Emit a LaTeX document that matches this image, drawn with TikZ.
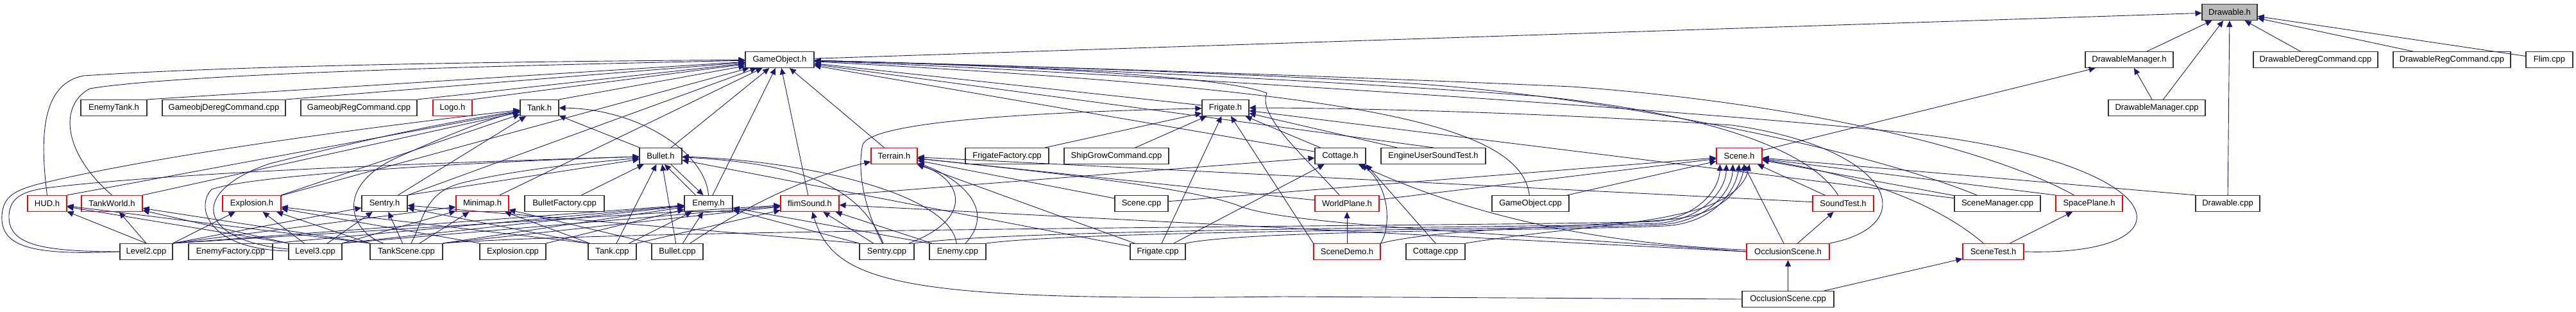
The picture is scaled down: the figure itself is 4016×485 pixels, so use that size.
\documentclass[tikz,border=0pt]{standalone}
\usepackage{fontspec}
\setmainfont{Liberation Sans}
\usetikzlibrary{arrows.meta}
\definecolor{edgeblue}{HTML}{191970}
\tikzset{
  file/.style={draw=black!80, line width=1.1pt, fill=white, minimum height=25pt, inner sep=2pt, font=\fontsize{13}{15}\selectfont},
  redfile/.style={file, draw=red},
  dep/.style={draw=edgeblue, line width=0.9pt, -{Triangle[length=10pt,width=9pt]}},
}
\begin{document}
\begin{tikzpicture}[x=1pt, y=-1pt]
\useasboundingbox (0,0) rectangle (4016,485);

% --- 第0层 ---
\node[file, fill=gray!55, minimum width=86pt] (drawh) at (3476,19) {Drawable.h};

% --- 第1层 ---
\node[file, minimum width=107pt] (gameobjh) at (1215.5,93) {GameObject.h};
\node[file, minimum width=137pt] (drawmgrh) at (3319.5,93) {DrawableManager.h};
\node[file, minimum width=194pt] (drawderegcpp) at (3610,93) {DrawableDeregCommand.cpp};
\node[file, minimum width=183pt] (drawregcpp) at (3822.5,93) {DrawableRegCommand.cpp};
\node[file, minimum width=73pt] (flimcpp) at (3974.5,93) {Flim.cpp};

% --- 第2层 ---
\node[file, minimum width=103pt] (enemytankh) at (177.5,168) {EnemyTank.h};
\node[file, minimum width=192pt] (gobjderegcpp) at (349,168) {GameobjDeregCommand.cpp};
\node[file, minimum width=181pt] (gobjregcpp) at (559.5,168) {GameobjRegCommand.cpp};
\node[redfile, minimum width=61pt] (logoh) at (705.5,168) {Logo.h};
\node[file, minimum width=60pt] (tankh) at (841,168) {Tank.h};
\node[file, minimum width=73pt] (frigateh) at (1910.5,168) {Frigate.h};
\node[file, minimum width=151pt] (drawmgrcpp) at (3362.5,168) {DrawableManager.cpp};

% --- 第3层 ---
\node[file, minimum width=66pt] (bulleth) at (1030,243) {Bullet.h};
\node[redfile, minimum width=72pt] (terrainh) at (1394,243) {Terrain.h};
\node[file, minimum width=130pt] (frigfactcpp) at (1570,243) {FrigateFactory.cpp};
\node[file, minimum width=163pt] (shipgrowcpp) at (1740.5,243) {ShipGrowCommand.cpp};
\node[file, minimum width=79pt] (cottageh) at (2089.5,243) {Cottage.h};
\node[file, minimum width=163pt] (eustesth) at (2234.5,243) {EngineUserSoundTest.h};
\node[redfile, minimum width=71pt] (sceneh) at (2711.5,243) {Scene.h};

% --- 第4层 ---
\node[redfile, minimum width=61pt] (hudh) at (73.5,317) {HUD.h};
\node[redfile, minimum width=95pt] (tankworldh) at (174.5,317) {TankWorld.h};
\node[redfile, minimum width=91pt] (explosionh) at (392.5,317) {Explosion.h};
\node[file, minimum width=71pt] (sentryh) at (599.5,317) {Sentry.h};
\node[redfile, minimum width=82pt] (minimaph) at (752,317) {Minimap.h};
\node[file, minimum width=124pt] (bulletfactcpp) at (880,317) {BulletFactory.cpp};
\node[file, minimum width=75pt] (enemyh) at (1104.5,317) {Enemy.h};
\node[redfile, minimum width=91pt] (flimsoundh) at (1262.5,317) {flimSound.h};
\node[file, minimum width=83pt] (scenecpp) at (1779.5,317) {Scene.cpp};
\node[redfile, minimum width=100pt] (worldplaneh) at (2100,317) {WorldPlane.h};
\node[file, minimum width=120pt] (gameobjcpp) at (2386,317) {GameObject.cpp};
\node[redfile, minimum width=95pt] (soundtesth) at (2873.5,317) {SoundTest.h};
\node[file, minimum width=134pt] (scenemgrcpp) at (3114,317) {SceneManager.cpp};
\node[redfile, minimum width=104pt] (spaceplaneh) at (3257,317) {SpacePlane.h};
\node[file, minimum width=100pt] (drawcpp) at (3473,317) {Drawable.cpp};

% --- 第5层 ---
\node[file, minimum width=82pt] (level2cpp) at (228,392) {Level2.cpp};
\node[file, minimum width=131pt] (enemyfactcpp) at (359.5,392) {EnemyFactory.cpp};
\node[file, minimum width=83pt] (level3cpp) at (491.5,392) {Level3.cpp};
\node[file, minimum width=113pt] (tankscenecpp) at (633.5,392) {TankScene.cpp};
\node[file, minimum width=103pt] (explosioncpp) at (799.5,392) {Explosion.cpp};
\node[file, minimum width=75pt] (tankcpp) at (954.5,392) {Tank.cpp};
\node[file, minimum width=80pt] (bulletcpp) at (1056,392) {Bullet.cpp};
\node[file, minimum width=85pt] (sentrycpp) at (1382.5,392) {Sentry.cpp};
\node[file, minimum width=88pt] (enemycpp) at (1493,392) {Enemy.cpp};
\node[file, minimum width=86pt] (frigatecpp) at (1805,392) {Frigate.cpp};
\node[redfile, minimum width=104pt] (scenedemoh) at (2100,392) {SceneDemo.h};
\node[file, minimum width=92pt] (cottagecpp) at (2238,392) {Cottage.cpp};
\node[redfile, minimum width=129pt] (occlsceneh) at (2787.5,392) {OcclusionScene.h};
\node[redfile, minimum width=95pt] (scenetesth) at (3107.5,392) {SceneTest.h};

% --- 第6层 ---
\node[file, minimum width=143pt] (occlscenecpp) at (2787.5,466) {OcclusionScene.cpp};

% --- 指向 Drawable.h ---
\draw[dep] (gameobjh) -- (drawh);
\draw[dep] (drawmgrh) -- (drawh);
\draw[dep] (drawmgrcpp) -- (drawh);
\draw[dep] (drawcpp) -- (drawh);
\draw[dep] (drawderegcpp) -- (drawh);
\draw[dep] (drawregcpp) -- (drawh);
\draw[dep] (flimcpp) -- (drawh);
\draw[dep] (drawmgrcpp) -- (drawmgrh);
\draw[dep] (sceneh) -- (drawmgrh);

% --- 指向 GameObject.h ---
\draw[dep] (hudh.north) .. controls (60,200) and (70,130) .. (130,118) .. controls (400,100) and (900,95) .. (gameobjh);
\draw[dep] (tankworldh.north) .. controls (100,240) and (90,165) .. (140,138) .. controls (300,112) and (900,100) .. (gameobjh);
\draw[dep] (enemytankh.north east) -- (gameobjh);
\draw[dep] (gobjderegcpp.north east) -- (gameobjh);
\draw[dep] (gobjregcpp.north east) -- (gameobjh);
\draw[dep] (logoh.north east) -- (gameobjh);
\draw[dep] (tankh.north east) -- (gameobjh);
\draw[dep] (explosionh) -- (gameobjh);
\draw[dep] (sentryh) -- (gameobjh);
\draw[dep] (minimaph) -- (gameobjh);
\draw[dep] (bulleth) -- (gameobjh);
\draw[dep] (enemyh) -- (gameobjh);
\draw[dep] (flimsoundh) -- (gameobjh);
\draw[dep] (terrainh) -- (gameobjh);
\draw[dep] (frigateh) -- (gameobjh);
\draw[dep] (cottageh) -- (gameobjh);
\draw[dep] (eustesth.north) -- (gameobjh);
\draw[dep] (worldplaneh) .. controls (2030,240) and (1960,180) .. (1975,145) .. controls (1900,115) and (1500,100) .. (gameobjh);
\draw[dep] (gameobjcpp) .. controls (2370,190) and (2100,140) .. (gameobjh);
\draw[dep] (soundtesth) .. controls (2820,230) and (2650,175) .. (2400,150) .. controls (2000,120) and (1500,100) .. (gameobjh);
\draw[dep] (spaceplaneh) .. controls (3100,230) and (2800,160) .. (2450,135) .. controls (2000,115) and (1500,100) .. (gameobjh);
\draw[dep] (scenemgrcpp) .. controls (2900,230) and (2500,150) .. (2200,130) .. controls (1900,112) and (1500,100) .. (gameobjh);
\draw[dep] (scenetesth.east) .. controls (3420,400) and (3400,260) .. (3000,210) .. controls (2700,175) and (1700,110) .. (gameobjh);

% --- 指向 Tank.h ---
\draw[dep] (hudh.north east) -- (tankh);
\draw[dep] (tankworldh.north east) -- (tankh);
\draw[dep] (explosionh.north east) -- (tankh);
\draw[dep] (sentryh) -- (tankh);
\draw[dep] (bulleth) -- (tankh);
\draw[dep] (enemyh.north) .. controls (1100,240) and (1000,170) .. (tankh.east);
\draw[dep] (level2cpp.west) .. controls (50,398) and (0,385) .. (3,335) .. controls (5,305) and (25,297) .. (55,288) .. controls (250,240) and (600,195) .. (tankh);
\draw[dep] (level3cpp) .. controls (310,375) and (290,300) .. (420,255) .. controls (600,210) and (700,190) .. (tankh);
\draw[dep] (tankscenecpp) .. controls (545,360) and (520,290) .. (620,245) .. controls (700,210) and (760,185) .. (tankh);

% --- 指向 Bullet.h ---
\draw[dep] (level2cpp.west) .. controls (60,392) and (12,380) .. (14,335) .. controls (16,305) and (40,298) .. (70,293) .. controls (300,265) and (800,250) .. (bulleth);
\draw[dep] (level3cpp) .. controls (320,388) and (305,320) .. (330,295) .. controls (400,270) and (800,250) .. (bulleth);
\draw[dep] (tankscenecpp) .. controls (660,345) and (660,300) .. (720,285) .. controls (800,265) and (900,255) .. (bulleth);
\draw[dep] (sentryh.north east) -- (bulleth);
\draw[dep] (bulletfactcpp) -- (bulleth);
\draw[dep] (tankcpp) -- (bulleth);
\draw[dep] (bulletcpp) -- (bulleth);
\draw[dep] ([xshift=-20pt]enemyh.north) -- ([xshift=6pt]bulleth.south);
\draw[dep] (sentrycpp) .. controls (1340,290) and (1250,255) .. (bulleth);
\draw[dep] (enemycpp) .. controls (1480,300) and (1250,250) .. (bulleth);
\draw[dep] (frigatecpp) -- (bulleth);

% --- 第4层的头文件 ---
\draw[dep] (level2cpp.north) -- (hudh);
\draw[dep] (level3cpp.north west) -- (hudh);
\draw[dep] (tankscenecpp.north west) -- (hudh);
\draw[dep] (level2cpp.north) -- (tankworldh);
\draw[dep] (level3cpp.north west) -- (tankworldh);
\draw[dep] (tankscenecpp.north west) -- (tankworldh);
\draw[dep] (level2cpp.north east) -- (explosionh);
\draw[dep] (level3cpp) -- (explosionh);
\draw[dep] (tankscenecpp.north west) -- (explosionh);
\draw[dep] (explosioncpp.north west) -- (explosionh);
\draw[dep] (tankcpp.north west) -- (explosionh);
\draw[dep] (level2cpp.north east) -- (sentryh);
\draw[dep] (level3cpp) -- (sentryh);
\draw[dep] (tankscenecpp) -- (sentryh);
\draw[dep] (tankcpp.north west) -- (sentryh);
\draw[dep] (sentrycpp.north west) -- (sentryh);
\draw[dep] (level2cpp.north east) -- (minimaph);
\draw[dep] (level3cpp.north east) -- (minimaph);
\draw[dep] (tankscenecpp) -- (minimaph);
\draw[dep] (tankcpp) -- (minimaph);
\draw[dep] (bulletcpp.north west) -- (minimaph);
\draw[dep] ([xshift=16pt]bulleth.south) -- ([xshift=-8pt]enemyh.north);
\draw[dep] (level2cpp.north east) -- (enemyh);
\draw[dep] (enemyfactcpp.north east) -- (enemyh);
\draw[dep] (level3cpp.north east) -- (enemyh);
\draw[dep] (tankscenecpp.north east) -- (enemyh);
\draw[dep] (explosioncpp.north east) -- (enemyh);
\draw[dep] (tankcpp) -- (enemyh);
\draw[dep] (bulletcpp) -- (enemyh);
\draw[dep] (sentrycpp.north west) -- (enemyh);
\draw[dep] (enemycpp.north west) -- (enemyh);
\draw[dep] (level2cpp.north east) -- (flimsoundh);
\draw[dep] (level3cpp.north east) -- (flimsoundh);
\draw[dep] (tankscenecpp.north east) -- (flimsoundh);
\draw[dep] (tankcpp.north east) -- (flimsoundh);
\draw[dep] (sentrycpp) -- (flimsoundh);
\draw[dep] (enemycpp) -- (flimsoundh);
\draw[dep] (occlsceneh.west) -- (flimsoundh);
\draw[dep] (occlscenecpp.west) -- (2000,462) .. controls (1400,470) and (1300,440) .. (flimsoundh);

% --- 指向 Terrain.h ---
\draw[dep] (sentrycpp) .. controls (1520,340) and (1500,280) .. (terrainh);
\draw[dep] (enemycpp) .. controls (1560,320) and (1480,270) .. (terrainh);
\draw[dep] (frigatecpp) -- (terrainh);
\draw[dep] (scenecpp) -- (terrainh);
\draw[dep] (bulletcpp) .. controls (1150,330) and (1240,280) .. (terrainh);
\draw[dep] (worldplaneh) -- (terrainh);
\draw[dep] (soundtesth) -- (terrainh);
\draw[dep] (occlsceneh.west) .. controls (2300,360) and (2000,350) .. (1930,320) .. controls (1850,290) and (1600,265) .. (terrainh);

% --- 指向 Frigate.h ---
\draw[dep] (frigfactcpp) -- (frigateh);
\draw[dep] (shipgrowcpp) -- (frigateh);
\draw[dep] (frigatecpp) -- (frigateh);
\draw[dep] (sentrycpp) .. controls (1350,330) and (1335,270) .. (1345,225) .. controls (1360,190) and (1600,175) .. (frigateh);
\draw[dep] (scenedemoh.north west) -- (frigateh);
\draw[dep] (cottageh) -- (frigateh);
\draw[dep] (eustesth) -- (frigateh);
\draw[dep] (scenemgrcpp) -- (frigateh);
\draw[dep] (occlsceneh.north east) .. controls (3000,350) and (2950,230) .. (2700,195) .. controls (2400,175) and (2100,168) .. (frigateh);

% --- 指向 Cottage.h / WorldPlane.h ---
\draw[dep] (cottagecpp.north) -- (cottageh.south east);
\draw[dep] (scenedemoh.north east) .. controls (2170,350) and (2165,290) .. ([xshift=-7pt]cottageh.south east);
\draw[dep] (frigatecpp) -- (cottageh);
\draw[dep] (occlsceneh) .. controls (2500,380) and (2300,340) .. (cottageh);
\draw[dep] (flimsoundh.north east) -- (cottageh);
\draw[dep] (scenedemoh) -- (worldplaneh);

% --- 指向 Scene.h ---
\draw[dep] (scenecpp) -- (sceneh);
\draw[dep] (gameobjcpp) -- (sceneh);
\draw[dep] (worldplaneh) -- (sceneh);
\draw[dep] (soundtesth) -- (sceneh);
\draw[dep] (occlsceneh) -- (sceneh);
\draw[dep] (scenemgrcpp) -- (sceneh);
\draw[dep] (spaceplaneh.north west) -- (sceneh);
\draw[dep] (scenetesth) .. controls (3000,300) and (2850,265) .. (sceneh);
\draw[dep] (drawcpp.north west) -- (sceneh);
\draw[dep] (tankscenecpp.north east) .. controls (1000,355) and (2400,352) .. (2580,345) .. controls (2640,340) and (2680,300) .. ([xshift=-30pt]sceneh.south);
\draw[dep] (sentrycpp.north east) .. controls (1600,355) and (2400,355) .. (2585,348) .. controls (2650,342) and (2690,300) .. ([xshift=-20pt]sceneh.south);
\draw[dep] (enemycpp.north east) .. controls (1700,358) and (2400,358) .. (2590,350) .. controls (2660,345) and (2700,300) .. ([xshift=-10pt]sceneh.south);
\draw[dep] (frigatecpp.north east) .. controls (1950,358) and (2400,360) .. (2595,352) .. controls (2670,348) and (2705,300) .. (sceneh.south);
\draw[dep] (scenedemoh.north east) .. controls (2250,355) and (2450,355) .. (2600,342) .. controls (2680,336) and (2712,300) .. ([xshift=8pt]sceneh.south);
\draw[dep] (cottagecpp.north east) .. controls (2400,360) and (2550,350) .. (2610,335) .. controls (2690,320) and (2720,290) .. ([xshift=16pt]sceneh.south);

% --- 其余 ---
\draw[dep] (occlsceneh) -- (soundtesth);
\draw[dep] (occlscenecpp) -- (occlsceneh);
\draw[dep] (occlscenecpp) -- (scenetesth);
\draw[dep] (scenetesth) -- (spaceplaneh);
\end{tikzpicture}
\end{document}
